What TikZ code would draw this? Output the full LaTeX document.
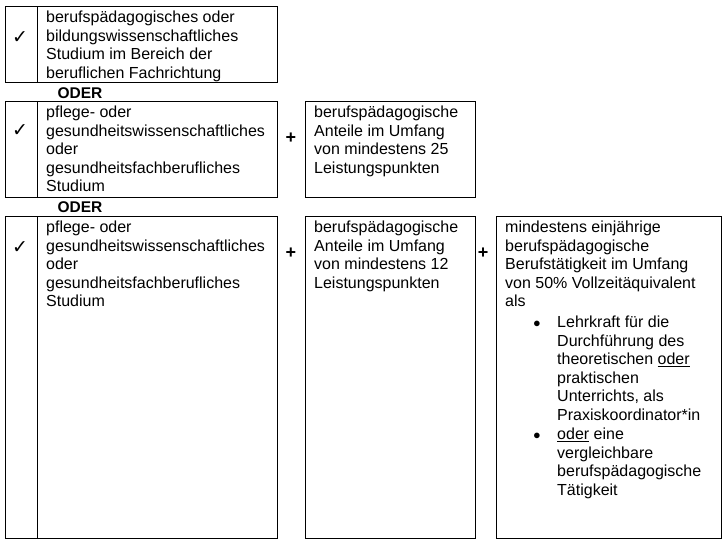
\documentclass[tikz,border=0pt]{standalone}
\usepackage{fontspec}
\setmainfont{Liberation Sans}
\newfontfamily\symfont{DejaVu Sans}
\usetikzlibrary{positioning}
\tikzset{
  cell/.style={draw, line width=0.8pt},
  txt/.style={anchor=north west, align=left, inner sep=0pt,
    font=\fontsize{16}{18.5}\selectfont},
  tick/.style={font=\symfont\bfseries\fontsize{19}{19}\selectfont},
  plus/.style={font=\bfseries\fontsize{18}{18}\selectfont},
  oder/.style={font=\bfseries\fontsize{15.5}{15}\selectfont, anchor=west}
}
\begin{document}
\begin{tikzpicture}[x=1pt, y=-1pt]
    \useasboundingbox (0,0) rectangle (727,541);
    % first way
    \draw[cell] (5,6) rectangle (277,82);
    \draw[cell] (37,6) -- (37,82);
    \node[tick] (c1) at (20,38) {✓};
    \node[txt] (s1) at (46,11) {berufspädagogisches oder\\bildungswissenschaftliches\\Studium im Bereich der\\beruflichen Fachrichtung};
    \node[oder] (o1) at (54,93) {ODER};
    % second way
    \draw[cell] (5,101) rectangle (277,197);
    \draw[cell] (37,101) -- (37,197);
    \node[tick] (c2) at (20,131) {✓};
    \node[txt] (s2) at (46,106) {pflege- oder\\gesundheitswissenschaftliches\\oder\\gesundheitsfachberufliches\\Studium};
    \node[plus] (p2) at (291,138) {+};
    \draw[cell] (305,101) rectangle (475,197);
    \node[txt] (a2) at (314,106) {berufspädagogische\\Anteile im Umfang\\von mindestens 25\\Leistungspunkten};
    \node[oder] (o2) at (54,207) {ODER};
    % third way
    \draw[cell] (5,216) rectangle (277,538);
    \draw[cell] (37,216) -- (37,538);
    \node[tick] (c3) at (20,248) {✓};
    \node[txt] (s3) at (46,221) {pflege- oder\\gesundheitswissenschaftliches\\oder\\gesundheitsfachberufliches\\Studium};
    \node[plus] (p3) at (291,253) {+};
    \draw[cell] (305,216) rectangle (475,538);
    \node[txt] (a3) at (314,221) {berufspädagogische\\Anteile im Umfang\\von mindestens 12\\Leistungspunkten};
    \node[plus] (p4) at (483,253) {+};
    \draw[cell] (496,216) rectangle (721,538);
    \node[txt] (b3) at (505,221) {mindestens einjährige\\berufspädagogische\\Berufstätigkeit im Umfang\\von 50\% Vollzeitäquivalent\\als};
    \node[font=\fontsize{14}{14}\selectfont] (d1) at (537,324) {$\bullet$};
    \node[txt] (l1) at (557,316) {Lehrkraft für die\\Durchführung des\\theoretischen \underline{oder}\\praktischen\\Unterrichts, als\\Praxiskoordinator*in};
    \node[font=\fontsize{14}{14}\selectfont] (d2) at (537,436) {$\bullet$};
    \node[txt] (l2) at (557,428) {\underline{oder} eine\\vergleichbare\\berufspädagogische\\Tätigkeit};
\end{tikzpicture}
\end{document}
